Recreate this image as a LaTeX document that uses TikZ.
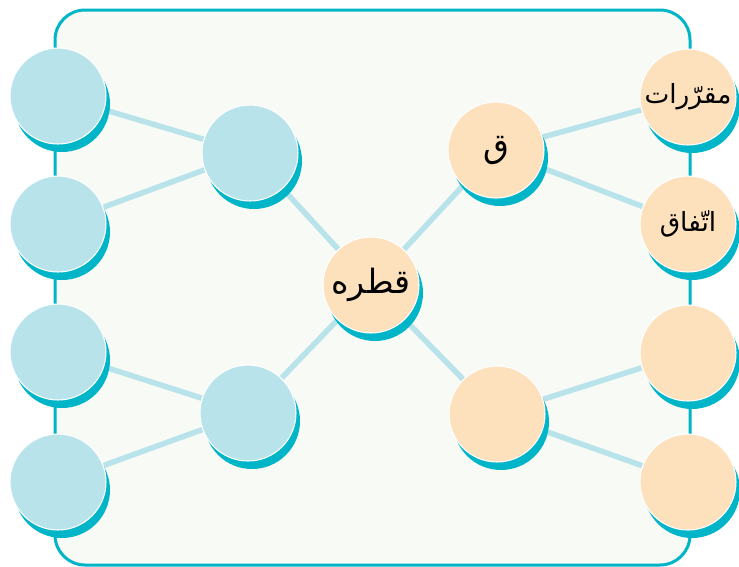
\documentclass[tikz,border=0pt]{standalone}
\usepackage{fontspec}
\newfontfamily\arabicfont[Script=Arabic]{DejaVu Sans}
\TeXXeTstate=1
\usepackage{xcolor}
\usetikzlibrary{positioning}
\usetikzlibrary{shadows}
\usetikzlibrary{backgrounds}
\definecolor{tealc}{HTML}{00B5C8}
\definecolor{bluec}{HTML}{B9E3EA}
\definecolor{orangec}{HTML}{FDE0BC}
\definecolor{bgc}{HTML}{F7FAF5}
\definecolor{linec}{HTML}{B9E3EA}

\tikzset{
  bubble/.style={circle, minimum size=1.92cm, inner sep=0pt, draw=white, line width=0.6pt,
    drop shadow={shadow xshift=0.08cm, shadow yshift=-0.16cm, fill=tealc, opacity=1}},
  bnode/.style={bubble, fill=bluec},
  onode/.style={bubble, fill=orangec, font=\arabicfont\fontsize{19}{23}\selectfont},
  small/.style={font=\arabicfont\fontsize{15}{18}\selectfont},
  link/.style={draw=linec, line width=0.11cm},
  frame/.style={draw=tealc, fill=bgc, line width=0.06cm, rounded corners=0.6cm}
}

\begin{document}
\begin{tikzpicture}[x=0.02cm, y=-0.02cm]
\useasboundingbox (0,0) rectangle (739,566);
%%%%%%%%%%%%%%
\node[bnode] (l1) at (58,96) {};
\node[bnode] (l2) at (58,224) {};
\node[bnode] (l3) at (58,352) {};
\node[bnode] (l4) at (58,482) {};
\node[bnode] (m1) at (250,153) {};
\node[bnode] (m2) at (248,413) {};
%%%%%%%%%%%%%%
\node[onode] (c) at (371,285) {\beginR قطره\endR};
%%%%%%%%%%%%%%
\node[onode] (n1) at (496,150) {\beginR ق\endR};
\node[onode] (n2) at (497,414) {};
\node[onode,small] (r1) at (688,97) {\beginR مقرّرات\endR};
\node[onode,small] (r2) at (688,224) {\beginR اتّفاق\endR};
\node[onode] (r3) at (688,353) {};
\node[onode] (r4) at (688,482) {};
%%%%%%%%%%%%%%%%%%%%%%%%%%%%%%%%%%%%%%%%%%
\begin{scope}[on background layer]
\draw[frame] (55,10) rectangle (690,565);
\draw[link] (l1) -- (m1);
\draw[link] (l2) -- (m1);
\draw[link] (l3) -- (m2);
\draw[link] (l4) -- (m2);
\draw[link] (m1) -- (c);
\draw[link] (m2) -- (c);
\draw[link] (c) -- (n1);
\draw[link] (c) -- (n2);
\draw[link] (n1) -- (r1);
\draw[link] (n1) -- (r2);
\draw[link] (n2) -- (r3);
\draw[link] (n2) -- (r4);
\end{scope}
\end{tikzpicture}
\end{document}
